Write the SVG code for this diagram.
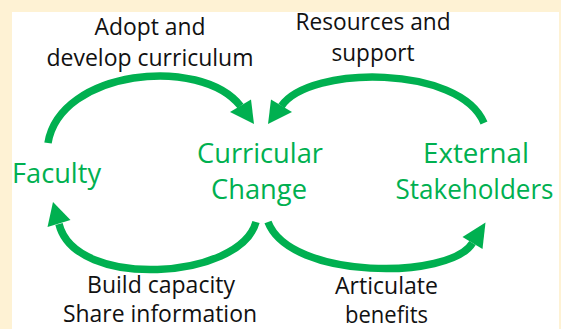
<svg xmlns="http://www.w3.org/2000/svg" width="561" height="329" viewBox="0 0 561 329">
  <style>
    .lbl { font-family: "Open Sans", "Liberation Sans", sans-serif; font-size: 23.5px; fill: #111111; text-anchor: middle; }
    .node { font-family: "Open Sans", "Liberation Sans", sans-serif; font-size: 28px; fill: #00b050; text-anchor: middle; }
    .shaft { fill: none; stroke: #00b050; stroke-width: 7.5; stroke-linecap: butt; }
    .head { fill: #00b050; stroke: none; }
  </style>
  <!-- page frame -->
  <rect x="0" y="0" width="561" height="329" fill="#fef2d4"/>
  <rect x="12" y="12" width="547" height="317" fill="#ffffff"/>

  <!-- nodes -->
  <g id="faculty">
    <text class="node" x="56.5" y="183" textLength="89" lengthAdjust="spacingAndGlyphs">Faculty</text>
  </g>
  <g id="curricular-change">
    <text class="node" x="260" y="163" textLength="126" lengthAdjust="spacingAndGlyphs">Curricular</text>
    <text class="node" x="259" y="199" textLength="96" lengthAdjust="spacingAndGlyphs">Change</text>
  </g>
  <g id="external-stakeholders">
    <text class="node" x="476" y="163" textLength="106" lengthAdjust="spacingAndGlyphs">External</text>
    <text class="node" x="474.5" y="199" style="font-size:26.5px" textLength="158" lengthAdjust="spacingAndGlyphs">Stakeholders</text>
  </g>

  <!-- connectors -->
  <g id="connectors">
    <!-- Faculty -> Curricular Change -->
    <path class="shaft" d="M48,143 C60,70 200,55 240.5,106"/>
    <polygon class="head" points="230,112 251,99.5 254,124"/>
    <!-- External Stakeholders -> Curricular Change -->
    <path class="shaft" d="M484,123 C460,65 310,65 281.5,106"/>
    <polygon class="head" points="292,112 271,99.5 268,124"/>
    <!-- Curricular Change -> Faculty -->
    <path class="shaft" d="M256,222 C240,280 75,290 59,224"/>
    <polygon class="head" points="47.5,227 70.5,220 53,202"/>
    <!-- Curricular Change -> External Stakeholders -->
    <path class="shaft" d="M268,222 C290,280 450,280 472.5,243"/>
    <polygon class="head" points="462.5,237 482.5,249 485.5,222.5"/>
  </g>

  <!-- connector labels -->
  <g id="labels">
    <text class="lbl" x="150" y="35" textLength="111" lengthAdjust="spacingAndGlyphs">Adopt and</text>
    <text class="lbl" x="150" y="66" textLength="207" lengthAdjust="spacingAndGlyphs">develop curriculum</text>
    <text class="lbl" x="373" y="30" textLength="155" lengthAdjust="spacingAndGlyphs">Resources and</text>
    <text class="lbl" x="373" y="61" textLength="83" lengthAdjust="spacingAndGlyphs">support</text>
    <text class="lbl" x="161" y="293" textLength="148" lengthAdjust="spacingAndGlyphs">Build capacity</text>
    <text class="lbl" x="160" y="322" textLength="194" lengthAdjust="spacingAndGlyphs">Share information</text>
    <text class="lbl" x="386.5" y="294" textLength="103" lengthAdjust="spacingAndGlyphs">Articulate</text>
    <text class="lbl" x="386.5" y="323" textLength="83" lengthAdjust="spacingAndGlyphs">benefits</text>
  </g>
</svg>
